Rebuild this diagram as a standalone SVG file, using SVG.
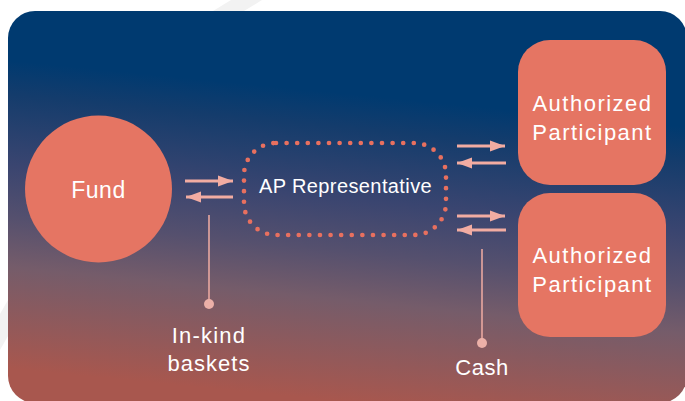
<svg xmlns="http://www.w3.org/2000/svg" width="685" height="401" viewBox="0 0 685 401">
  <defs>
    <linearGradient id="bg" gradientUnits="userSpaceOnUse" x1="360" y1="95" x2="330" y2="400">
      <stop offset="0" stop-color="#003a70"/>
      <stop offset="0.11" stop-color="#143c6c"/>
      <stop offset="0.34" stop-color="#3a4570"/>
      <stop offset="0.51" stop-color="#55506e"/>
      <stop offset="0.67" stop-color="#755c6a"/>
      <stop offset="1" stop-color="#a8574e"/>
    </linearGradient>
    <marker id="ah" markerUnits="userSpaceOnUse" markerWidth="16" markerHeight="12" refX="15" refY="6" orient="auto">
      <polygon points="0,0.5 15,6 0,11.5" fill="#f2aca2"/>
    </marker>
    <style>
      .lbl { font-family: "Liberation Sans", Arial, sans-serif; fill: #ffffff; text-anchor: middle; }
      .node { fill: #e57563; }
      .arr { stroke: #f2aca2; stroke-width: 3; fill: none; marker-end: url(#ah); }
      .ptr { stroke: #e9a8a0; stroke-width: 1.6; fill: none; }
      .dot { fill: #ecb0a8; }
    </style>
  </defs>
  <rect width="685" height="401" fill="#ffffff"/>
  <polygon points="213,11 231,0 262,0 244,11" fill="#f2f2f2"/>
  <polygon points="0,350 8,336 8,300 0,314" fill="#f2f2f2"/>
  <rect x="8" y="11" width="679" height="392" rx="27" fill="url(#bg)"/>

  <g id="connectors">
    <line class="arr" x1="185" y1="181" x2="233" y2="181"/>
    <line class="arr" x1="233" y1="197" x2="186" y2="197"/>
    <line class="arr" x1="457" y1="146" x2="505" y2="146"/>
    <line class="arr" x1="506" y1="163" x2="457" y2="163"/>
    <line class="arr" x1="457" y1="216" x2="505" y2="216"/>
    <line class="arr" x1="506" y1="230" x2="457" y2="230"/>
    <line class="ptr" x1="209" y1="215" x2="209" y2="304"/>
    <circle class="dot" cx="209" cy="304" r="5"/>
    <line class="ptr" x1="482" y1="249" x2="482" y2="343"/>
    <circle class="dot" cx="482" cy="343" r="5"/>
  </g>

  <g id="fund">
    <circle class="node" cx="98.5" cy="189" r="73.5"/>
    <text class="lbl" x="98.5" y="198" font-size="23" letter-spacing="0.5">Fund</text>
  </g>

  <g id="ap-representative">
    <rect x="244" y="143" width="202" height="92" rx="32" fill="none" stroke="#e8705f" stroke-width="4.7" stroke-linecap="round" stroke-dasharray="0 10.6"/>
    <text class="lbl" x="345.5" y="193" font-size="20" letter-spacing="0.4">AP Representative</text>
  </g>

  <g id="ap-1">
    <rect class="node" x="518" y="40" width="148" height="145" rx="32"/>
    <text class="lbl" x="592.5" y="111" font-size="22" letter-spacing="1.5">Authorized</text>
    <text class="lbl" x="592.5" y="140" font-size="22" letter-spacing="1.5">Participant</text>
  </g>

  <g id="ap-2">
    <rect class="node" x="518" y="193" width="148" height="144" rx="32"/>
    <text class="lbl" x="592.5" y="263" font-size="22" letter-spacing="1.5">Authorized</text>
    <text class="lbl" x="592.5" y="292" font-size="22" letter-spacing="1.5">Participant</text>
  </g>

  <g id="in-kind-label">
    <text class="lbl" x="209" y="343" font-size="22" letter-spacing="1.2">In-kind</text>
    <text class="lbl" x="209" y="371" font-size="22" letter-spacing="1">baskets</text>
  </g>

  <g id="cash-label">
    <text class="lbl" x="482" y="375" font-size="22" letter-spacing="0.5">Cash</text>
  </g>
</svg>
